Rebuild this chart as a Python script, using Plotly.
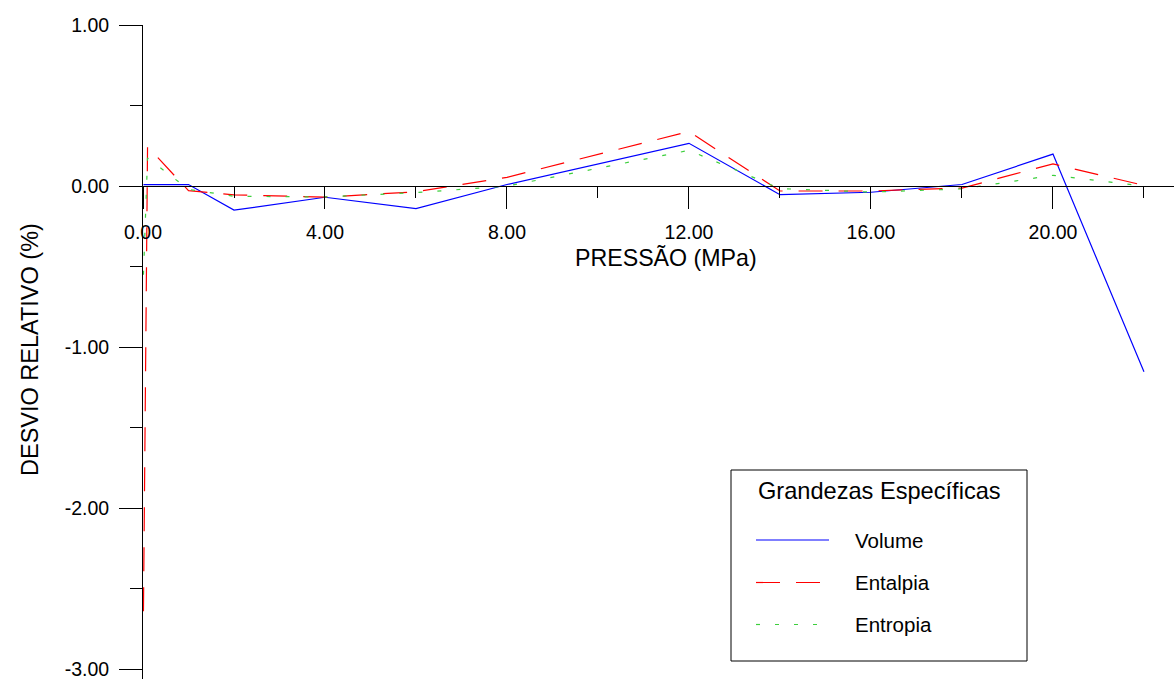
import plotly.graph_objects as go

# Pressure (MPa) at which each property deviation was evaluated
pressure = [0.01, 0.1, 1, 2, 4, 6, 8, 12, 14, 16, 18, 20, 22]

# Relative deviation (%) for each specific property
volume = [0.01, 0.01, 0.01, -0.149, -0.069, -0.139, 0.01, 0.266, -0.053, -0.038, 0.01, 0.199, -1.153]
entalpia = [-2.64, 0.246, -0.028, -0.054, -0.068, -0.035, 0.055, 0.339, -0.03, -0.03, -0.012, 0.138, 0.005]
entropia = [-0.55, 0.175, -0.02, -0.063, -0.067, -0.04, 0.0, 0.222, -0.015, -0.037, -0.017, 0.067, 0.0]

series_names = ["Volume", "Entalpia", "Entropia"]
series_colors = ["#0000ff", "#ff0000", "#3ccf3c"]
series_dash = ["solid", "24px,16px", "4px,15px"]

x_tick_vals = [0, 4, 8, 12, 16, 20]
x_tick_text = ["0.00", "4.00", "8.00", "12.00", "16.00", "20.00"]
y_tick_vals = [1, 0, -1, -2, -3]
y_tick_text = ["1.00", "0.00", "-1.00", "-2.00", "-3.00"]

legend_title = "Grandezas Específicas"
x_title = "PRESSÃO (MPa)"
y_title = "DESVIO RELATIVO (%)"

W, H = 1174, 679
ML, MR, MT, MB = 143, 0, 25, 0
PW, PH = W - ML - MR, H - MT - MB
X_RANGE = [0, 22.66]
Y_RANGE = [-3.06, 1.0005]
FONT = "Liberation Sans, Arial, sans-serif"


def px(xpix):
    return (xpix - ML) / PW


def py(ypix):
    return (H - MB - ypix) / PH


fig = go.Figure()
for name, vals, color, dash in zip(series_names, [volume, entalpia, entropia], series_colors, series_dash):
    fig.add_trace(go.Scatter(
        x=pressure, y=vals, mode="lines", name=name,
        line=dict(color=color, width=1.2, dash=dash),
        showlegend=False,
    ))

zero_pos = (0 - Y_RANGE[0]) / (Y_RANGE[1] - Y_RANGE[0])

fig.update_layout(
    width=W, height=H,
    margin=dict(l=ML, r=MR, t=MT, b=MB, pad=0),
    paper_bgcolor="white", plot_bgcolor="white",
    font=dict(family=FONT, color="black"),
    xaxis=dict(
        range=X_RANGE, anchor="free", position=zero_pos,
        showgrid=False, zeroline=False, showline=True, linecolor="black", linewidth=1,
        ticks="outside", ticklen=22, tickwidth=1, tickcolor="black",
        tickvals=x_tick_vals, ticktext=x_tick_text,
        tickfont=dict(size=19.5, family=FONT, color="black"),
        ticklabelstandoff=6, ticklabeloverflow="allow",
        minor=dict(dtick=2, tick0=0, ticks="outside", ticklen=11, tickwidth=1, tickcolor="black", showgrid=False),
        automargin=False,
    ),
    yaxis=dict(
        range=Y_RANGE, anchor="x",
        showgrid=False, zeroline=False, showline=True, linecolor="black", linewidth=1,
        ticks="outside", ticklen=23, tickwidth=1, tickcolor="black",
        tickvals=y_tick_vals, ticktext=y_tick_text,
        tickfont=dict(size=19.5, family=FONT, color="black"),
        ticklabelstandoff=6, ticklabeloverflow="allow",
        minor=dict(dtick=0.5, tick0=0, ticks="outside", ticklen=12, tickwidth=1, tickcolor="black", showgrid=False),
        automargin=False,
    ),
)

# axis titles
fig.add_annotation(x=px(666), y=py(258), xref="paper", yref="paper", text=x_title,
                   showarrow=False, font=dict(size=23.2, family=FONT), xanchor="center", yanchor="middle")
fig.add_annotation(x=px(30), y=py(350), xref="paper", yref="paper", text=y_title, textangle=-90,
                   showarrow=False, font=dict(size=23.5, family=FONT), xanchor="center", yanchor="middle")

# legend box
fig.add_shape(type="rect", xref="paper", yref="paper",
              x0=px(731), x1=px(1027), y0=py(470), y1=py(661),
              line=dict(color="black", width=1), fillcolor="white", layer="above")
fig.add_annotation(x=px(756), y=py(491), xref="paper", yref="paper", text=legend_title,
                   showarrow=False, font=dict(size=23.6, family=FONT), xanchor="left", yanchor="middle")
for i, (name, color, dash) in enumerate(zip(series_names, series_colors, series_dash)):
    yy = [540, 582.5, 624.5][i]
    fig.add_shape(type="line", xref="paper", yref="paper",
                  x0=px(756), x1=px(829), y0=py(yy), y1=py(yy),
                  line=dict(color=color, width=1.2, dash=dash), layer="above")
    fig.add_annotation(x=px(853), y=py(yy), xref="paper", yref="paper", text=name,
                       showarrow=False, font=dict(size=20.5, family=FONT), xanchor="left", yanchor="middle")

fig.write_html("out.html")
